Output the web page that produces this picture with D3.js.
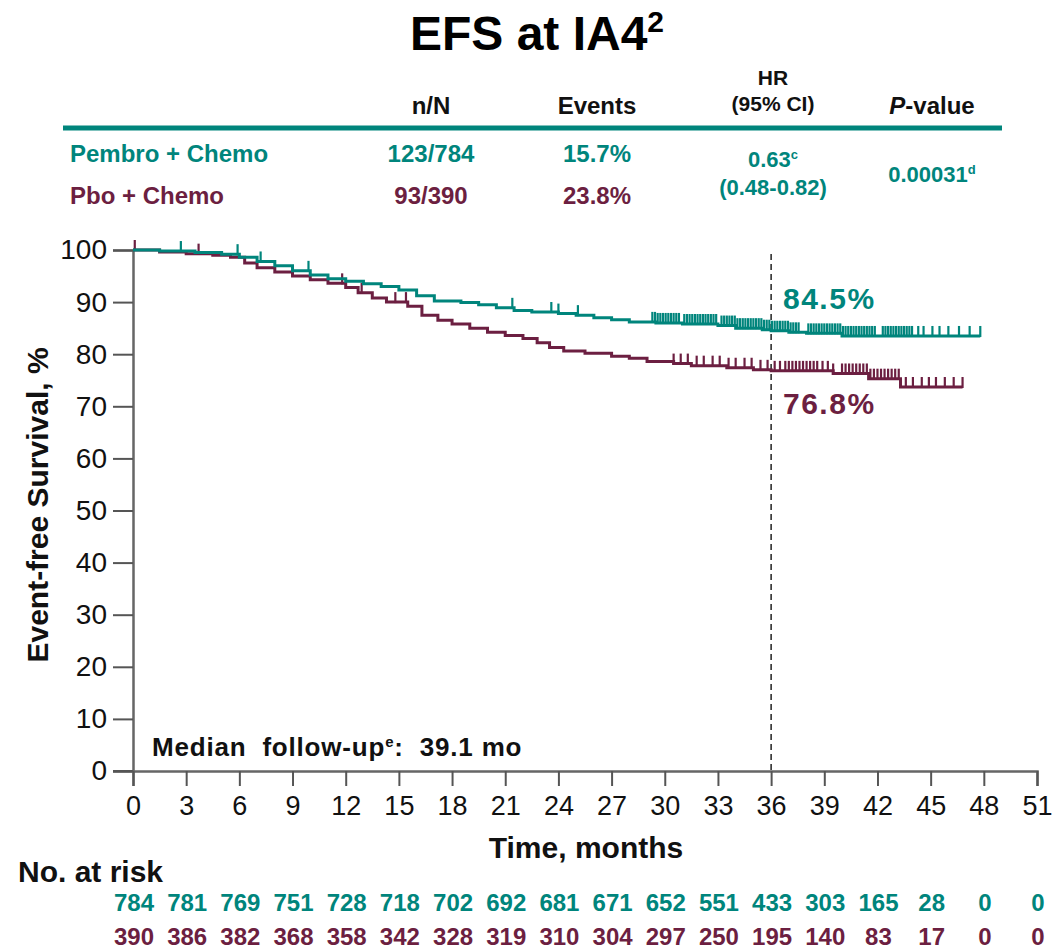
<!DOCTYPE html>
<html>
<head>
<meta charset="utf-8">
<script src="https://cdn.jsdelivr.net/npm/d3@7"></script>
<style>
  body { margin: 0; background: #fff; }
  svg text { font-family: "Liberation Sans", Arial, sans-serif; white-space: pre; }
</style>
</head>
<body>
<div id="chart"></div>
<script>
const width = 1056;
const height = 952;

const teal = '#00857c';
const maroon = '#6c1f41';

// KM steps: [time, survival %]
const pembroSteps = [[0,100],[1.5,99.8],[3.5,99.5],[5,99.2],[6,98.6],[7,97.8],[8,97],[9,96],[10,95.2],[11,94.5],[12,94],[13,93.5],[14,93],[15,92.3],[16,91.2],[17,90.2],[18.5,89.9],[19.5,89.5],[20.5,88.9],[21.5,88.4],[22.5,88.1],[24,87.8],[25,87.5],[26,87],[27,86.6],[28,86.2],[29.5,86],[31,85.8],[33,85.5],[34,85],[35.5,84.7],[36,84.5],[37,84.2],[38,84],[40,83.5],[47.8,83.5]];
const pboSteps = [[0,100],[1.5,99.6],[3,99.3],[4.5,99],[5.5,98.6],[6.3,97.5],[7,96.6],[8,95.8],[9,95],[10,94.3],[11,93.6],[12,92.8],[12.7,91.8],[13.5,90.8],[14.3,90],[15.5,89.2],[16.3,87.5],[17.2,86.5],[18,85.8],[19,85],[20,84.2],[21,83.6],[22,83],[22.8,82.2],[23.5,81.3],[24.3,80.6],[25.5,80.2],[27,79.6],[28,79.2],[29,78.6],[30.5,78.2],[31.5,77.8],[33.5,77.4],[35,77],[36,76.8],[39.5,76.3],[41.5,75.3],[43.3,73.7],[46.8,73.7]];

// censored times
const pembroCensor = [2.7,5.9,7.2,9.9,21.4,23.6,24.0,25.1,29.3,29.45,29.6,29.75,29.9,30.05,30.2,30.35,30.5,30.65,30.8,31.1,31.25,31.4,31.55,31.7,31.85,32.0,32.15,32.3,32.45,32.6,32.75,32.9,33.2,33.35,33.5,33.65,33.8,33.95,34.1,34.25,34.4,34.55,34.7,34.85,35.0,35.15,35.3,35.45,35.6,35.75,35.9,36.05,36.2,36.35,36.5,36.65,36.8,36.95,37.1,37.25,37.4,37.55,38.1,38.25,38.4,38.55,38.7,38.85,39.0,39.15,39.3,39.45,39.6,39.75,39.9,40.05,40.2,40.35,40.5,40.65,40.8,40.95,41.1,41.25,41.4,41.55,41.7,41.85,42.3,42.45,42.6,42.75,42.9,43.05,43.2,43.35,43.5,43.65,43.8,43.95,44.3,44.6,45.1,45.5,46.0,46.6,47.2,47.8];
const pboCensor = [0.1,3.7,11.8,12.9,14.8,15.4,30.5,30.9,31.3,31.8,32.2,32.7,33.1,33.6,34.0,34.5,34.9,35.4,35.8,36.2,36.5,36.8,37.0,37.2,37.4,37.6,37.8,38.0,38.2,38.4,38.6,38.9,39.2,39.5,40.0,40.2,40.4,40.6,40.8,41.0,41.2,41.4,41.6,41.8,42.0,42.2,42.4,42.6,42.8,43.0,43.2,43.6,44.0,44.5,44.9,45.3,45.8,46.3,46.8];

const xTicks = [0,3,6,9,12,15,18,21,24,27,30,33,36,39,42,45,48,51];
const yTicks = [0,10,20,30,40,50,60,70,80,90,100];
const pembroRisk = [784,781,769,751,728,718,702,692,681,671,652,551,433,303,165,28,0,0];
const pboRisk = [390,386,382,368,358,342,328,319,310,304,297,250,195,140,83,17,0,0];

const svg = d3.select('#chart').append('svg')
  .attr('width', width).attr('height', height);

const x = d3.scaleLinear().domain([0, 51]).range([133, 1037]);
const y = d3.scaleLinear().domain([0, 100]).range([771, 250]);

// title
const title = svg.append('text').attr('x', 537).attr('y', 50)
  .attr('text-anchor', 'middle').attr('font-size', 48).attr('font-weight', 'bold').attr('fill', '#000');
title.append('tspan').text('EFS at IA4');
title.append('tspan').attr('font-size', 30).attr('dy', -18).text('2');

// summary table
const hdr = svg.append('g').attr('font-size', 24).attr('font-weight', 'bold').attr('fill', '#111').attr('text-anchor', 'middle');
hdr.append('text').attr('x', 431).attr('y', 114).text('n/N');
hdr.append('text').attr('x', 597).attr('y', 114).text('Events');
hdr.append('text').attr('x', 773).attr('y', 85).attr('font-size', 21).text('HR');
hdr.append('text').attr('x', 773).attr('y', 111).attr('font-size', 21).text('(95% CI)');
const pv = hdr.append('text').attr('x', 932).attr('y', 114);
pv.append('tspan').attr('font-style', 'italic').text('P');
pv.append('tspan').text('-value');

svg.append('line').attr('x1', 63).attr('x2', 1002).attr('y1', 128).attr('y2', 128)
  .attr('stroke', teal).attr('stroke-width', 5);

const rows = svg.append('g').attr('font-size', 24).attr('font-weight', 'bold');
rows.append('text').attr('x', 70).attr('y', 162).attr('fill', teal).text('Pembro + Chemo');
rows.append('text').attr('x', 70).attr('y', 204).attr('fill', maroon).text('Pbo + Chemo');
rows.append('text').attr('x', 431).attr('y', 162).attr('text-anchor', 'middle').attr('fill', teal).text('123/784');
rows.append('text').attr('x', 431).attr('y', 204).attr('text-anchor', 'middle').attr('fill', maroon).text('93/390');
rows.append('text').attr('x', 597).attr('y', 162).attr('text-anchor', 'middle').attr('fill', teal).text('15.7%');
rows.append('text').attr('x', 597).attr('y', 204).attr('text-anchor', 'middle').attr('fill', maroon).text('23.8%');
const hr = rows.append('text').attr('x', 773).attr('y', 167).attr('text-anchor', 'middle').attr('fill', teal).attr('font-size', 22);
hr.append('tspan').text('0.63');
hr.append('tspan').attr('font-size', 13).attr('dy', -8).text('c');
rows.append('text').attr('x', 773).attr('y', 195).attr('text-anchor', 'middle').attr('fill', teal).attr('font-size', 22).text('(0.48-0.82)');
const pval = rows.append('text').attr('x', 932).attr('y', 182).attr('text-anchor', 'middle').attr('fill', teal).attr('font-size', 22);
pval.append('tspan').text('0.00031');
pval.append('tspan').attr('font-size', 13).attr('dy', -8).text('d');

// axes
const yAxis = svg.append('g').attr('transform', 'translate(133,0)')
  .call(d3.axisLeft(y).tickValues(yTicks).tickSize(20).tickPadding(6));
const xAxis = svg.append('g').attr('transform', 'translate(0,771)')
  .call(d3.axisBottom(x).tickValues(xTicks).tickSize(15).tickPadding(10));
[yAxis, xAxis].forEach(ax => {
  ax.select('.domain').attr('stroke', '#666').attr('stroke-width', 2.5);
  ax.selectAll('.tick line').attr('stroke', '#555').attr('stroke-width', 2);
  ax.selectAll('.tick text').attr('fill', '#111')
    .attr('font-family', '"Liberation Sans", Arial, sans-serif');
});
yAxis.selectAll('.tick text').attr('font-size', 28);
xAxis.selectAll('.tick text').attr('font-size', 27);
svg.append('line').attr('x1', 113).attr('x2', 133).attr('y1', 771).attr('y2', 771)
  .attr('stroke', '#555').attr('stroke-width', 2);

svg.append('text').attr('transform', 'translate(48,505) rotate(-90)')
  .attr('text-anchor', 'middle').attr('font-size', 30).attr('font-weight', 'bold').attr('fill', '#111')
  .text('Event-free Survival, %');
svg.append('text').attr('x', 586).attr('y', 858).attr('text-anchor', 'middle')
  .attr('font-size', 30).attr('font-weight', 'bold').attr('fill', '#111').text('Time, months');

// 36-month reference
svg.append('line').attr('x1', x(36)).attr('x2', x(36)).attr('y1', 254).attr('y2', 771)
  .attr('stroke', '#222').attr('stroke-width', 1.5).attr('stroke-dasharray', '6,4');

// KM curves
const line = d3.line().x(d => x(d[0])).y(d => y(d[1])).curve(d3.curveStepAfter);
function survAt(steps, t) {
  let s = steps[0][1];
  for (const p of steps) { if (p[0] <= t) s = p[1]; }
  return s;
}
const series = [
  { steps: pboSteps, censor: pboCensor, color: maroon },
  { steps: pembroSteps, censor: pembroCensor, color: teal }
];
series.forEach(sr => {
  svg.append('path').datum(sr.steps).attr('d', line)
    .attr('fill', 'none').attr('stroke', sr.color).attr('stroke-width', 3);
  svg.append('g').selectAll('line').data(sr.censor).join('line')
    .attr('x1', d => x(d)).attr('x2', d => x(d))
    .attr('y1', d => y(survAt(sr.steps, d)) + 1)
    .attr('y2', d => y(survAt(sr.steps, d)) - 10)
    .attr('stroke', sr.color).attr('stroke-width', 2.2);
});

svg.append('text').attr('x', 783).attr('y', 309).attr('font-size', 30).attr('font-weight', 'bold')
  .attr('letter-spacing', 1.5).attr('fill', teal).text('84.5%');
svg.append('text').attr('x', 783).attr('y', 414).attr('font-size', 30).attr('font-weight', 'bold')
  .attr('letter-spacing', 1.5).attr('fill', maroon).text('76.8%');

const med = svg.append('text').attr('x', 152).attr('y', 756).attr('font-size', 26)
  .attr('font-weight', 'bold').attr('letter-spacing', 0.8).attr('fill', '#111');
med.append('tspan').text('Median  follow-up');
med.append('tspan').attr('font-size', 15).attr('dy', -9).text('e');
med.append('tspan').attr('dy', 9).text(':  39.1 mo');

// number at risk
svg.append('text').attr('x', 18).attr('y', 882).attr('font-size', 30).attr('font-weight', 'bold')
  .attr('fill', '#111').text('No. at risk');
svg.append('g').selectAll('text').data(pembroRisk).join('text')
  .attr('x', (d, i) => x(xTicks[i]) + 1).attr('y', 911).attr('text-anchor', 'middle')
  .attr('font-size', 24).attr('font-weight', 'bold').attr('fill', teal).text(d => d);
svg.append('g').selectAll('text').data(pboRisk).join('text')
  .attr('x', (d, i) => x(xTicks[i]) + 1).attr('y', 945).attr('text-anchor', 'middle')
  .attr('font-size', 24).attr('font-weight', 'bold').attr('fill', maroon).text(d => d);
</script>
</body>
</html>
